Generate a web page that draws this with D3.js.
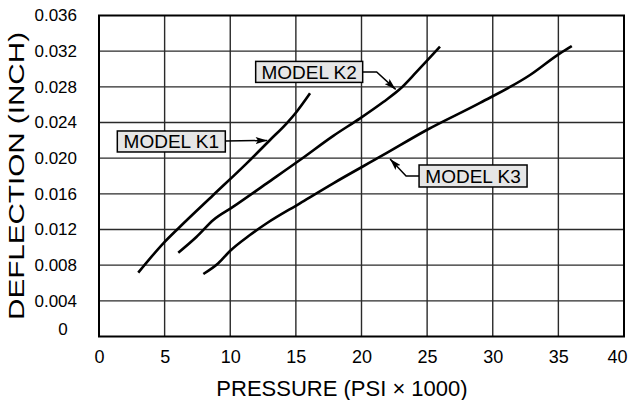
<!DOCTYPE html>
<html>
<head>
<meta charset="utf-8">
<script src="https://cdn.jsdelivr.net/npm/d3@7"></script>
<style>
body{margin:0;background:#fff;}
svg{display:block;font-family:"Liberation Sans",Arial,sans-serif;}
</style>
</head>
<body>
<svg id="chart" width="629" height="400"></svg>
<script>
// ---- data ----
const xTicks = [0,5,10,15,20,25,30,35,40];
const yTicks = [0,0.004,0.008,0.012,0.016,0.020,0.024,0.028,0.032,0.036];
const seriesNames = ["MODEL K1","MODEL K2","MODEL K3"];
const k1 = [[2.99,0.00716],[4.90,0.01045],[6.17,0.01231],[8.71,0.01587],[11.25,0.01942],[13.03,0.02204],[14.30,0.02391],[15.06,0.02521],[16.08,0.02727]];
const k2 = [[6.04,0.0094],[7.44,0.01119],[8.71,0.01307],[10.23,0.01456],[12.78,0.01718],[15.31,0.01979],[17.85,0.02250],[19.89,0.02447],[21.66,0.02630],[22.93,0.02775],[24.21,0.02970],[25.98,0.0325]];
const k3 = [[7.95,0.00701],[9.09,0.00821],[9.98,0.00959],[11.50,0.01138],[12.78,0.0127],[15.31,0.01494],[17.85,0.01718],[21.66,0.02036],[24.97,0.02316],[29.03,0.02620],[32.84,0.02933],[35.12,0.03176],[36.02,0.03258]];
const seriesValues = [k1,k2,k3];
// arrow targets (data coords on each curve)
const calloutX = [12.9,22.68,22.1];
const calloutY = [0.02204,0.02760,0.02002];
const xTitle = "PRESSURE (PSI \u00D7 1000)";
const yTitle = "DEFLECTION (INCH)";

// ---- layout ----
const svg = d3.select("#chart");
const L=99, R=624, T=15.5, B=336.5;
const x = d3.scaleLinear().domain([0,40]).range([L,R]);
const y = d3.scaleLinear().domain([0,0.036]).range([B,T]);

svg.append("defs").append("marker")
  .attr("id","arr").attr("viewBox","0 0 10 6").attr("refX",10).attr("refY",3)
  .attr("markerWidth",12).attr("markerHeight",7).attr("markerUnits","userSpaceOnUse")
  .attr("orient","auto")
  .append("path").attr("d","M0,0 L10,3 L0,6 L2,3 Z").attr("fill","#000");

// grid
const g = svg.append("g");
g.selectAll("line.vx").data(xTicks.slice(1,-1)).enter().append("line")
  .attr("x1",d=>x(d)).attr("x2",d=>x(d)).attr("y1",T).attr("y2",B)
  .attr("stroke","#2a2a2a").attr("stroke-width",1.4);
g.selectAll("line.hy").data(yTicks.slice(1,-1)).enter().append("line")
  .attr("y1",d=>y(d)).attr("y2",d=>y(d)).attr("x1",L).attr("x2",R)
  .attr("stroke","#2a2a2a").attr("stroke-width",1.4);
g.append("rect").attr("x",L).attr("y",T).attr("width",R-L).attr("height",B-T)
  .attr("fill","none").attr("stroke","#000").attr("stroke-width",2);

// axes via d3 axis (no domain/ticks lines)
const xAxis = svg.append("g").attr("transform",`translate(0,${B})`)
  .call(d3.axisBottom(x).tickValues(xTicks).tickSize(0).tickPadding(14).tickFormat(d3.format("d")));
xAxis.select(".domain").remove();
xAxis.selectAll("text").attr("font-size",18).attr("font-family","Liberation Sans, Arial, sans-serif").attr("fill","#000");
xAxis.selectAll(".tick").filter(d=>d===40).select("text").attr("text-anchor","end").attr("x",3);

const yAxis = svg.append("g").attr("transform",`translate(${L},0)`)
  .call(d3.axisLeft(y).tickValues(yTicks).tickSize(0).tickPadding(22).tickFormat(d=>d===0?"0":d3.format(".3f")(d)));
yAxis.select(".domain").remove();
yAxis.selectAll("text").attr("font-size",17).attr("font-family","Liberation Sans, Arial, sans-serif").attr("fill","#000");
yAxis.selectAll(".tick").filter(d=>d===0).select("text")
  .attr("text-anchor","middle").attr("x",-36).attr("dy","-0.12em");

// titles
svg.append("text").attr("x",342).attr("y",396).attr("text-anchor","middle")
  .attr("font-size",22).attr("fill","#000").text(xTitle);
svg.append("text").attr("transform","translate(24,176) rotate(-90)").attr("text-anchor","middle")
  .attr("font-size",22).attr("fill","#000")
  .attr("textLength",288).attr("lengthAdjust","spacingAndGlyphs").text(yTitle);

// curves
const line = d3.line().x(d=>x(d[0])).y(d=>y(d[1])).curve(d3.curveMonotoneX);
svg.selectAll("path.curve").data(seriesValues).enter().append("path")
  .attr("d",line).attr("fill","none").attr("stroke","#000").attr("stroke-width",2.6)
  .attr("stroke-linecap","butt");

// callouts: box offsets relative to arrow tip (pixels)
const boxLayout = [
  {bx:-151, by:-9,  w:108, h:21, leader:(tx,ty)=>[[tx-43,ty+1],[tx-1,ty+0.5]]},
  {bx:-141, by:-29, w:107, h:21, leader:(tx,ty)=>[[tx-34,ty-18.5],[tx-20,ty-18.5],[tx-1,ty-1]]},
  {bx:30,   by:7,   w:108, h:22, leader:(tx,ty)=>[[tx+30,ty+18],[tx+17,ty+18],[tx+1,ty+1]]}
];
seriesNames.forEach((name,i)=>{
  const tx = x(calloutX[i]), ty = y(calloutY[i]);
  const lay = boxLayout[i];
  svg.append("path").attr("d",d3.line()(lay.leader(tx,ty)))
    .attr("fill","none").attr("stroke","#000").attr("stroke-width",1.5)
    .attr("marker-end","url(#arr)");
  const bx = tx+lay.bx, by = ty+lay.by;
  svg.append("rect").attr("x",bx).attr("y",by).attr("width",lay.w).attr("height",lay.h)
    .attr("fill","#e6e6e6").attr("stroke","#000").attr("stroke-width",1.5);
  svg.append("text").attr("x",bx+lay.w/2).attr("y",by+lay.h/2).attr("dy","0.36em")
    .attr("text-anchor","middle").attr("font-size",19).attr("fill","#000").text(name);
});
</script>
</body>
</html>
